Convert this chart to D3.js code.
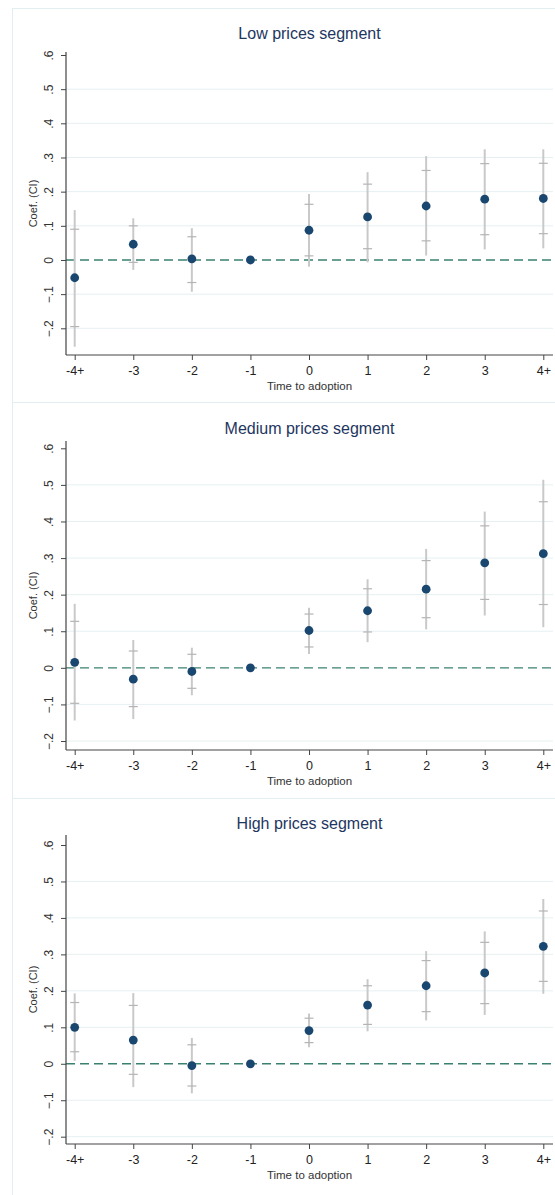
<!DOCTYPE html>
<meta charset="utf-8">
<head>
<style>
body { margin: 0; background: #fff; }
text { font-family: "Liberation Sans", Arial, sans-serif; }
</style>
</head>
<body>
<div id="my_dataviz"></div>
<script src="https://d3js.org/d3.v7.min.js"></script>
<script>

// categories and tick labels
var periods = ["-4+", "-3", "-2", "-1", "0", "1", "2", "3", "4+"];
var yTicks = [-0.2, -0.1, 0, 0.1, 0.2, 0.3, 0.4, 0.5, 0.6];
var titles = ["Low prices segment", "Medium prices segment", "High prices segment"];

// Low prices segment
var lowCoef = [-0.052, 0.046, 0.003, 0, 0.087, 0.126, 0.158, 0.178, 0.180];
var lowHi95 = [0.146, 0.122, 0.093, null, 0.193, 0.257, 0.304, 0.324, 0.324];
var lowLo95 = [-0.254, -0.029, -0.093, null, -0.020, -0.007, 0.013, 0.031, 0.034];
var lowHi90 = [0.090, 0.100, 0.068, null, 0.163, 0.222, 0.262, 0.282, 0.283];
var lowLo90 = [-0.195, -0.007, -0.066, null, 0.012, 0.033, 0.056, 0.074, 0.077];

// Medium prices segment
var medCoef = [0.015, -0.031, -0.010, 0, 0.102, 0.156, 0.215, 0.287, 0.312];
var medHi95 = [0.175, 0.076, 0.055, null, 0.164, 0.242, 0.325, 0.427, 0.514];
var medLo95 = [-0.144, -0.140, -0.075, null, 0.038, 0.070, 0.105, 0.143, 0.111];
var medHi90 = [0.127, 0.046, 0.037, null, 0.147, 0.216, 0.293, 0.388, 0.454];
var medLo90 = [-0.097, -0.106, -0.056, null, 0.057, 0.098, 0.137, 0.187, 0.173];

// High prices segment
var highCoef = [0.100, 0.065, -0.005, 0, 0.091, 0.161, 0.214, 0.249, 0.322];
var highHi95 = [0.193, 0.194, 0.071, null, 0.138, 0.232, 0.309, 0.363, 0.452];
var highLo95 = [0.008, -0.064, -0.081, null, 0.045, 0.089, 0.119, 0.134, 0.192];
var highHi90 = [0.168, 0.160, 0.052, null, 0.125, 0.214, 0.283, 0.333, 0.419];
var highLo90 = [0.033, -0.029, -0.061, null, 0.058, 0.108, 0.143, 0.165, 0.226];

var series = [
  {coef: lowCoef, hi95: lowHi95, lo95: lowLo95, hi90: lowHi90, lo90: lowLo90},
  {coef: medCoef, hi95: medHi95, lo95: medLo95, hi90: medHi90, lo90: medLo90},
  {coef: highCoef, hi95: highHi95, lo95: highLo95, hi90: highHi90, lo90: highLo90}
];

// layout of each panel (pixels)
var panels = [
  {top: 8,   yLow: 328.3, yHigh: 55,    plotTop: 52,  plotBottom: 355,  titleY: 39},
  {top: 402, yLow: 741,   yHigh: 448.3, plotTop: 441, plotBottom: 750,  titleY: 434},
  {top: 798, yLow: 1136.7, yHigh: 845,  plotTop: 835, plotBottom: 1144, titleY: 829}
];

var W = 555, H = 1195;
var plotLeft = 66, plotRight = 553;

var svg = d3.select("#my_dataviz")
  .append("svg")
    .attr("width", W)
    .attr("height", H);

// panel frames
svg.append("line")
  .attr("x1", 12.5).attr("x2", 12.5)
  .attr("y1", 8).attr("y2", H)
  .attr("stroke", "#e3eef2").attr("stroke-width", 1);

var x = d3.scaleLinear()
  .domain([0, periods.length - 1])
  .range([74.7, 543.3]);

var fmt = function(d) {
  if (d === 0) return "0";
  return d3.format(".1f")(d).replace("0.", ".");
};

panels.forEach(function(p, k) {
  var s = series[k];
  var g = svg.append("g");

  g.append("line")
    .attr("x1", 12).attr("x2", W)
    .attr("y1", p.top + 0.5).attr("y2", p.top + 0.5)
    .attr("stroke", "#e3eef2").attr("stroke-width", 1);

  var y = d3.scaleLinear()
    .domain([-0.2, 0.6])
    .range([p.yLow, p.yHigh]);

  // title
  g.append("text")
    .attr("x", (plotLeft + plotRight) / 2)
    .attr("y", p.titleY)
    .attr("text-anchor", "middle")
    .style("font-size", "16px")
    .style("fill", "#1e3660")
    .text(titles[k]);

  // gridlines
  g.selectAll(".grid")
    .data(yTicks.filter(function(d) { return d !== 0 && d !== 0.6; }))
    .enter()
    .append("line")
      .attr("x1", plotLeft).attr("x2", plotRight)
      .attr("y1", function(d) { return y(d); })
      .attr("y2", function(d) { return y(d); })
      .attr("stroke", "#e6f0f2").attr("stroke-width", 1);

  // zero reference line
  g.append("line")
    .attr("x1", plotLeft).attr("x2", plotRight)
    .attr("y1", y(0)).attr("y2", y(0))
    .attr("stroke", "#3a8070")
    .attr("stroke-width", 1.4)
    .attr("stroke-dasharray", "9,5");

  // y axis
  var yAxis = g.append("g")
    .attr("transform", "translate(" + plotLeft + ",0)")
    .call(d3.axisLeft(y).tickValues(yTicks).tickFormat(fmt).tickSize(5).tickPadding(0));
  yAxis.select(".domain")
    .attr("d", "M0," + p.plotTop + "V" + p.plotBottom)
    .attr("stroke", "#444").attr("stroke-width", 1.2);
  yAxis.selectAll(".tick line").attr("stroke", "#444");
  yAxis.selectAll(".tick text")
    .attr("x", 0).attr("y", 0).attr("dy", "0.35em")
    .attr("transform", "translate(-17,0) rotate(-90)")
    .style("text-anchor", "middle")
    .style("font-size", "12px")
    .style("fill", "#333")
    .style("font-family", "Liberation Sans, Arial, sans-serif");

  g.append("text")
    .attr("transform", "translate(37," + ((p.plotTop + p.plotBottom) / 2) + ") rotate(-90)")
    .attr("text-anchor", "middle")
    .style("font-size", "11px")
    .style("fill", "#333")
    .text("Coef. (CI)");

  // x axis
  var xAxis = g.append("g")
    .attr("transform", "translate(0," + p.plotBottom + ")")
    .call(d3.axisBottom(x).ticks(periods.length).tickFormat(function(d, i) { return periods[d]; }).tickSize(5).tickPadding(6));
  xAxis.select(".domain")
    .attr("d", "M" + plotLeft + ",0H" + plotRight)
    .attr("stroke", "#444").attr("stroke-width", 1.2);
  xAxis.selectAll(".tick line").attr("stroke", "#444");
  xAxis.selectAll(".tick text")
    .style("font-size", "12.5px")
    .style("fill", "#222")
    .style("font-family", "Liberation Sans, Arial, sans-serif");

  g.append("text")
    .attr("x", (plotLeft + plotRight) / 2)
    .attr("y", p.plotBottom + 35)
    .attr("text-anchor", "middle")
    .style("font-size", "11.5px")
    .style("fill", "#333")
    .text("Time to adoption");

  var idx = d3.range(periods.length).filter(function(i) { return s.hi95[i] !== null; });

  // wide interval
  g.selectAll(".ci95")
    .data(idx)
    .enter()
    .append("line")
      .attr("x1", function(i) { return x(i); })
      .attr("x2", function(i) { return x(i); })
      .attr("y1", function(i) { return y(s.hi95[i]); })
      .attr("y2", function(i) { return y(s.lo95[i]); })
      .attr("stroke", "#c9c9c9").attr("stroke-width", 2);

  // narrow interval caps
  [s.hi90, s.lo90].forEach(function(arr) {
    g.selectAll(".cap")
      .data(idx)
      .enter()
      .append("line")
        .attr("x1", function(i) { return x(i) - 4.5; })
        .attr("x2", function(i) { return x(i) + 4.5; })
        .attr("y1", function(i) { return y(arr[i]); })
        .attr("y2", function(i) { return y(arr[i]); })
        .attr("stroke", "#b5b5b5").attr("stroke-width", 1.2);
  });

  // coefficients
  g.selectAll(".dot")
    .data(s.coef)
    .enter()
    .append("circle")
      .attr("cx", function(d, i) { return x(i); })
      .attr("cy", function(d) { return y(d); })
      .attr("r", 4.4)
      .style("fill", "#1a476f");
});

</script>
</body>
